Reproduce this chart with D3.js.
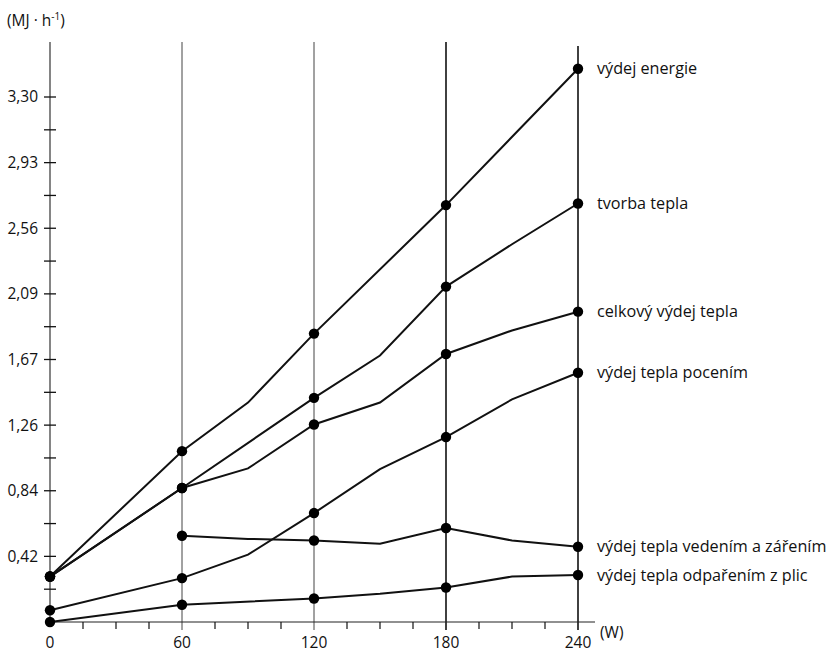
<!DOCTYPE html>
<html>
<head>
<meta charset="utf-8">
<script src="https://cdn.jsdelivr.net/npm/d3@7"></script>
<style>
  body { margin: 0; background: #fff; }
  svg text { font-family: "Open Sans", "Noto Sans", sans-serif; fill: #111; }
</style>
</head>
<body>
<div id="chart"></div>
<script>
// DATA
var seriesNames = [
  "výdej energie",
  "tvorba tepla",
  "celkový výdej tepla",
  "výdej tepla pocením",
  "výdej tepla vedením a zářením",
  "výdej tepla odpařením z plic"
]
// load in W, energy in MJ.h-1 ; points at 0/60/120/180/240 get a dot
, energieX = [0, 60, 90, 120, 180, 240]
, energieY = [0.29, 1.09, 1.40, 1.84, 2.66, 3.53]
, tvorbaX = [0, 60, 120, 150, 180, 210, 240]
, tvorbaY = [0.29, 0.855, 1.43, 1.70, 2.14, 2.41, 2.67]
, celkovyX = [0, 60, 90, 120, 150, 180, 210, 240]
, celkovyY = [0.29, 0.855, 0.98, 1.26, 1.40, 1.71, 1.86, 1.98]
, poceniX = [0, 60, 90, 120, 150, 180, 210, 240]
, poceniY = [0.075, 0.28, 0.43, 0.695, 0.975, 1.18, 1.42, 1.59]
, vedeniX = [60, 90, 120, 150, 180, 210, 240]
, vedeniY = [0.55, 0.53, 0.52, 0.50, 0.60, 0.52, 0.48]
, plicX = [0, 60, 120, 150, 180, 210, 240]
, plicY = [0, 0.11, 0.15, 0.18, 0.22, 0.29, 0.30]

, xTicks = [0, 60, 120, 180, 240]
, xMinorTicks = [15, 30, 45, 75, 90, 105, 135, 150, 165, 195, 210, 225]
, gridX = [60, 120, 180, 240]
// printed labels sit on multiples of 100 kcal (0.4187 MJ)
, yTickValues = [0.4187, 0.8374, 1.2561, 1.6748, 2.0935, 2.5122, 2.9309, 3.3496]
, yTickLabels = ["0,42", "0,84", "1,26", "1,67", "2,09", "2,56", "2,93", "3,30"]
, yMinorTicks = [0.2093, 0.628, 1.0467, 1.4654, 1.8841, 2.3028, 2.7215, 3.1402];

var allX = [energieX, tvorbaX, celkovyX, poceniX, vedeniX, plicX]
, allY = [energieY, tvorbaY, celkovyY, poceniY, vedeniY, plicY];

var w = 831
, h = 654
, left = 50
, bottom = 622
, chart
, x
, y
, line
, series;

x = d3.scaleLinear().domain([0, 240]).range([left, 578]);
y = d3.scaleLinear().domain([0, 3.3496]).range([bottom, 97]);

series = seriesNames.map(function(name, i) {
  return {
    name: name,
    points: allX[i].map(function(d, j) { return {x: d, y: allY[i][j]}; })
  };
});

chart = d3.select("#chart")
  .append("svg")
  .attr("width", w)
  .attr("height", h);

// vertical reference lines
chart.selectAll("line.grid")
  .data(gridX)
  .enter()
  .append("line")
  .attr("class", "grid")
  .attr("x1", function(d) { return x(d); })
  .attr("x2", function(d) { return x(d); })
  .attr("y1", function(d) { return d == 240 ? 46 : 42; })
  .attr("y2", bottom + 8)
  .attr("stroke", function(d) { return d < 180 ? "#444" : "#111"; })
  .attr("stroke-width", function(d) { return d < 180 ? 1 : 1.6; });

// y axis
chart.append("line")
  .attr("x1", left).attr("x2", left)
  .attr("y1", 42).attr("y2", bottom)
  .attr("stroke", "#333").attr("stroke-width", 1.2);

chart.selectAll("line.ytick")
  .data(yTickValues.concat(yMinorTicks))
  .enter()
  .append("line")
  .attr("class", "ytick")
  .attr("x1", left - 6).attr("x2", left + 6)
  .attr("y1", function(d) { return y(d); })
  .attr("y2", function(d) { return y(d); })
  .attr("stroke", "#111").attr("stroke-width", 1.3);

chart.selectAll("text.ylab")
  .data(yTickValues)
  .enter()
  .append("text")
  .attr("class", "ylab")
  .attr("x", 38)
  .attr("y", function(d) { return y(d); })
  .attr("dy", "0.35em")
  .attr("text-anchor", "end")
  .attr("font-size", 15.5)
  .text(function(d, i) { return yTickLabels[i]; });

chart.append("text")
  .attr("x", 7).attr("y", 26)
  .attr("font-size", 15.5)
  .html("(MJ · h<tspan dy='-6' font-size='10'>-1</tspan><tspan dy='6'>)</tspan>");

// x axis
chart.append("line")
  .attr("x1", left).attr("x2", 595)
  .attr("y1", bottom).attr("y2", bottom)
  .attr("stroke", "#222").attr("stroke-width", 1.2);

chart.selectAll("line.xtick")
  .data(xMinorTicks)
  .enter()
  .append("line")
  .attr("class", "xtick")
  .attr("x1", function(d) { return x(d); })
  .attr("x2", function(d) { return x(d); })
  .attr("y1", bottom).attr("y2", bottom + 7)
  .attr("stroke", "#111").attr("stroke-width", 1.2);

chart.selectAll("text.xlab")
  .data(xTicks)
  .enter()
  .append("text")
  .attr("class", "xlab")
  .attr("x", function(d) { return x(d); })
  .attr("y", 648)
  .attr("text-anchor", "middle")
  .attr("font-size", 15.5)
  .text(function(d) { return d; });

chart.append("text")
  .attr("x", 600).attr("y", 638)
  .attr("font-size", 15.5)
  .text("(W)");

// series lines
line = d3.line()
  .x(function(d) { return x(d.x); })
  .y(function(d) { return y(d.y); });

chart.selectAll("path.series")
  .data(series)
  .enter()
  .append("path")
  .attr("class", "series")
  .attr("d", function(d) { return line(d.points); })
  .attr("fill", "none")
  .attr("stroke", "#111")
  .attr("stroke-width", 2);

series.forEach(function(s) {
  chart.selectAll(null)
    .data(s.points.filter(function(p) { return p.x % 60 === 0; }))
    .enter()
    .append("circle")
    .attr("cx", function(d) { return x(d.x); })
    .attr("cy", function(d) { return y(d.y); })
    .attr("r", 5.2)
    .attr("fill", "#000");
});

// labels at the end of each line
chart.selectAll("text.name")
  .data(series)
  .enter()
  .append("text")
  .attr("class", "name")
  .attr("x", 597)
  .attr("y", function(d) { return y(d.points[d.points.length - 1].y); })
  .attr("dy", "0.35em")
  .attr("font-size", 16.2)
  .text(function(d) { return d.name; });
</script>
</body>
</html>
